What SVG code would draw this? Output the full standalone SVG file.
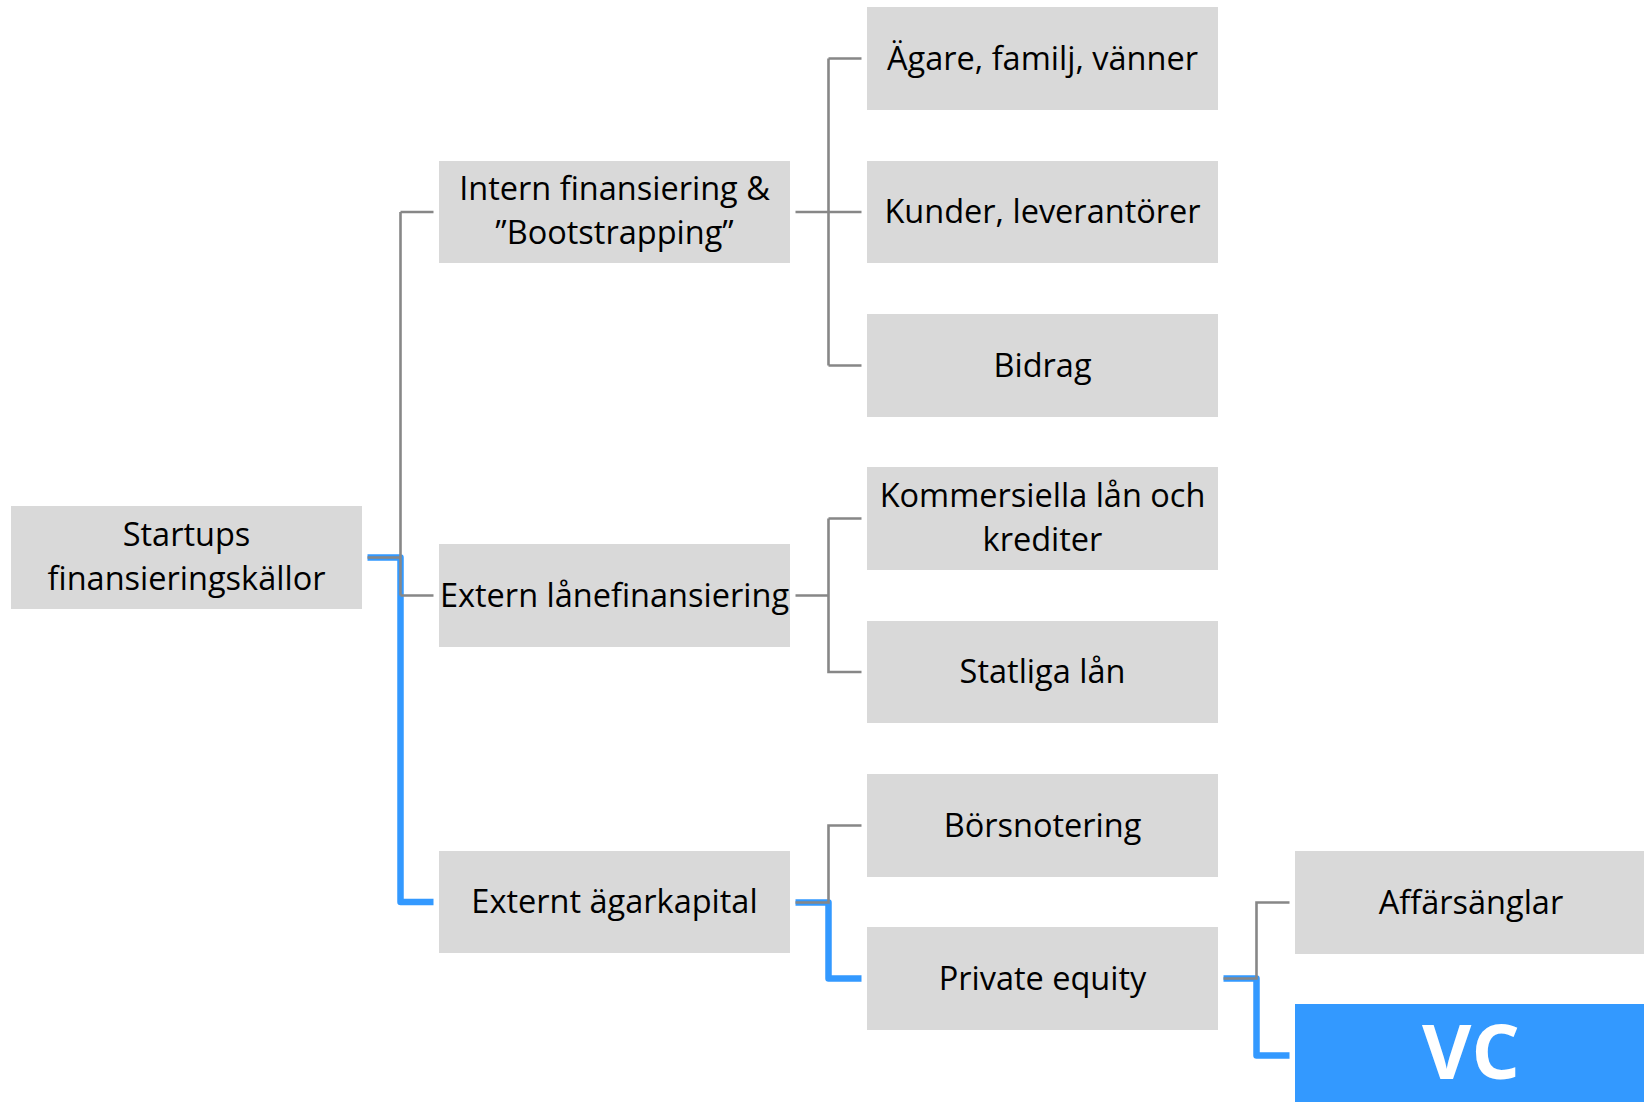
<svg xmlns="http://www.w3.org/2000/svg" width="1644" height="1102" viewBox="0 0 1644 1102">
<style>
.box{fill:#d9d9d9}
.hl{fill:#3399ff}
.t{font-family:"Open Sans","Liberation Sans",sans-serif;font-size:32.5px;fill:#000;text-anchor:middle}
.vc{font-family:"Open Sans","Liberation Sans",sans-serif;font-size:76px;font-weight:bold;fill:#fff;text-anchor:middle}
.g{fill:none;stroke:#878787;stroke-width:2.6}
.b{fill:none;stroke:#3399ff;stroke-width:6.5;stroke-linejoin:round}
</style>
<rect width="1644" height="1102" fill="#fff"/>
<g id="connectors">
<path class="b" d="M367.5,557.5 H400.5 V902 H433.5"/>
<path class="b" d="M795.5,902.5 H828.5 V978.5 H861.5"/>
<path class="b" d="M1223.5,978.5 H1256.5 V1055.5 H1289.5"/>
<path class="g" d="M367.5,557.5 H400.5 M400.5,212 V595.5 M400.5,212 H433.5 M400.5,595.5 H433.5"/>
<path class="g" d="M795.5,212 H861.5 M828.5,58.5 V365.5 M828.5,58.5 H861.5 M828.5,365.5 H861.5"/>
<path class="g" d="M795.5,595.5 H828.5 M828.5,518.5 V672 H861.5 M828.5,518.5 H861.5"/>
<path class="g" d="M795.5,902.5 H828.5 V825.5 H861.5"/>
<path class="g" d="M1223.5,978.5 H1256.5 V902.5 H1289.5"/>
</g>
<g id="n-startups"><rect class="box" x="11" y="506" width="351" height="103"/><text class="t" x="186.5" y="545.5">Startups<tspan x="186.5" dy="44.5">finansieringskällor</tspan></text></g>
<g id="n-intern"><rect class="box" x="439" y="161" width="351" height="102"/><text class="t" x="614.5" y="199.5">Intern finansiering &amp;<tspan x="614.5" dy="44.5">”Bootstrapping”</tspan></text></g>
<g id="n-extern-lan"><rect class="box" x="439" y="544" width="351" height="103"/><text class="t" x="614.5" y="606.5">Extern lånefinansiering</text></g>
<g id="n-externt-agar"><rect class="box" x="439" y="851" width="351" height="102"/><text class="t" x="614.5" y="913">Externt ägarkapital</text></g>
<g id="n-agare"><rect class="box" x="867" y="7" width="351" height="103"/><text class="t" x="1042.5" y="69.5">Ägare, familj, vänner</text></g>
<g id="n-kunder"><rect class="box" x="867" y="161" width="351" height="102"/><text class="t" x="1042.5" y="223">Kunder, leverantörer</text></g>
<g id="n-bidrag"><rect class="box" x="867" y="314" width="351" height="103"/><text class="t" x="1042.5" y="376.5">Bidrag</text></g>
<g id="n-kommersiella"><rect class="box" x="867" y="467" width="351" height="103"/><text class="t" x="1042.5" y="506.5">Kommersiella lån och<tspan x="1042.5" dy="44.5">krediter</tspan></text></g>
<g id="n-statliga"><rect class="box" x="867" y="621" width="351" height="102"/><text class="t" x="1042.5" y="683">Statliga lån</text></g>
<g id="n-borsnotering"><rect class="box" x="867" y="774" width="351" height="103"/><text class="t" x="1042.5" y="836.5">Börsnotering</text></g>
<g id="n-private-equity"><rect class="box" x="867" y="927" width="351" height="103"/><text class="t" x="1042.5" y="989.5">Private equity</text></g>
<g id="n-affarsanglar"><rect class="box" x="1295" y="851" width="353" height="103"/><text class="t" x="1471" y="913.5">Affärsänglar</text></g>
<g id="n-vc"><rect class="hl" x="1295" y="1004" width="353" height="103"/><text class="vc" x="1471" y="1079">VC</text></g>
</svg>
